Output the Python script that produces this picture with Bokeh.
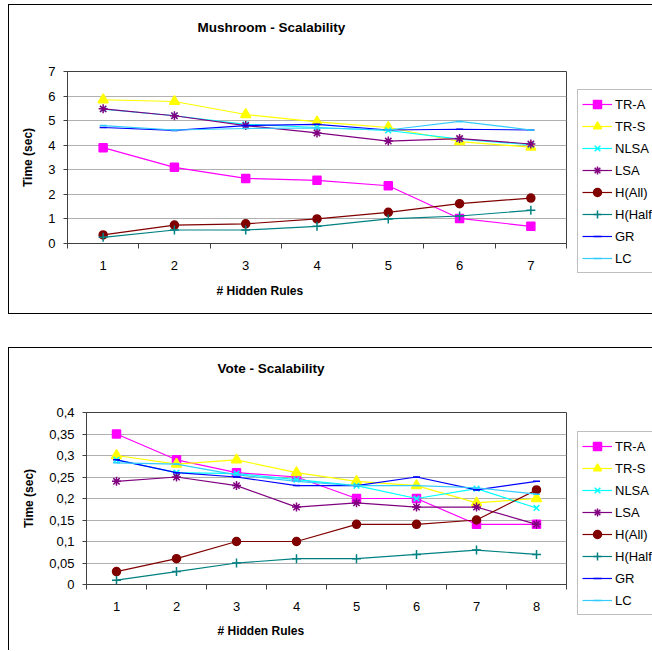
from bokeh.plotting import figure
from bokeh.models import (FixedTicker, Legend, LegendItem, Title, Range1d,
                          Spacer, LinearAxis)
from bokeh.layouts import column, row
from bokeh.embed import file_html
from bokeh.resources import INLINE

series_names = ["TR-A", "TR-S", "NLSA", "LSA", "H(All)", "H(Half)", "GR", "LC"]

# Mushroom - Scalability
mush_x = [1, 2, 3, 4, 5, 6, 7]
mush_tra = [3.9, 3.1, 2.65, 2.57, 2.35, 1.02, 0.7]
mush_trs = [5.85, 5.78, 5.25, 4.95, 4.72, 4.15, 3.92]
mush_nlsa = [5.47, 5.2, 4.85, 4.72, 4.6, 4.25, 4.02]
mush_lsa = [5.48, 5.2, 4.8, 4.5, 4.17, 4.27, 4.05]
mush_hall = [0.35, 0.75, 0.8, 1.0, 1.27, 1.62, 1.85]
mush_hhalf = [0.25, 0.55, 0.55, 0.7, 1.0, 1.12, 1.35]
mush_gr = [4.72, 4.6, 4.8, 4.85, 4.62, 4.65, 4.62]
mush_lc = [4.8, 4.62, 4.68, 4.7, 4.62, 4.97, 4.62]
mush_yticks = [0, 1, 2, 3, 4, 5, 6, 7]
mush_ylabels = ["0", "1", "2", "3", "4", "5", "6", "7"]

# Vote - Scalability
vote_x = [1, 2, 3, 4, 5, 6, 7, 8]
vote_tra = [0.35, 0.29, 0.26, 0.25, 0.20, 0.20, 0.14, 0.14]
vote_trs = [0.30, 0.28, 0.29, 0.26, 0.24, 0.23, 0.19, 0.20]
vote_nlsa = [0.29, 0.26, 0.258, 0.244, 0.23, 0.20, 0.223, 0.178]
vote_lsa = [0.24, 0.25, 0.23, 0.18, 0.19, 0.18, 0.18, 0.14]
vote_hall = [0.03, 0.06, 0.10, 0.10, 0.14, 0.14, 0.15, 0.22]
vote_hhalf = [0.01, 0.03, 0.05, 0.06, 0.06, 0.07, 0.08, 0.07]
vote_gr = [0.29, 0.26, 0.25, 0.23, 0.23, 0.25, 0.22, 0.24]
vote_lc = [0.283, 0.28, 0.255, 0.24, 0.23, 0.23, 0.225, 0.21]
vote_yticks = [0, 0.05, 0.1, 0.15, 0.2, 0.25, 0.3, 0.35, 0.4]
vote_ylabels = ["0", "0,05", "0,1", "0,15", "0,2", "0,25", "0,3", "0,35", "0,4"]

styles = [
    dict(color="#FF00FF", marker="square", size=8),
    dict(color="#FFFF00", marker="triangle", size=10),
    dict(color="#00FFFF", marker="x", size=8),
    dict(color="#800080", marker="asterisk", size=9),
    dict(color="#800000", marker="circle", size=8),
    dict(color="#008080", marker="cross", size=9),
    dict(color="#0000FF", marker="dash", size=7),
    dict(color="#33CCFF", marker="dash", size=7),
]

FONT = "Liberation Sans"


def add_series(p, xs, ys, st):
    ln = p.line(xs, ys, line_color=st["color"], line_width=1.2)
    sc = p.scatter(xs, ys, marker=st["marker"], size=st["size"],
                   fill_color=st["color"], line_color=st["color"],
                   line_width=1.5)
    return ln, sc


def make_chart(title, xs, ys_list, y_max, yticks, ylabels, height,
               min_left, min_top, min_bottom, title_offset, xlab_offset,
               xlab_standoff, legend_y, show_bottom_border):
    n = len(xs)
    p = figure(width=559, height=height, output_backend="svg",
               toolbar_location=None,
               x_range=Range1d(0.5, n + 0.5), y_range=Range1d(0, y_max),
               min_border_left=min_left, min_border_right=1,
               min_border_top=min_top, min_border_bottom=min_bottom)
    p.border_fill_alpha = 0
    p.background_fill_color = "white"
    p.outline_line_color = "#404040"
    p.outline_line_width = 1

    p.xgrid.grid_line_color = None
    p.ygrid.grid_line_color = "#B0B0B0"
    p.ygrid.grid_line_width = 1

    xa = p.below[0]
    xa.ticker = FixedTicker(ticks=list(xs),
                            minor_ticks=[i + 0.5 for i in range(0, n + 1)])
    xa.major_tick_out = 0
    xa.major_tick_in = 0
    xa.minor_tick_out = 5
    xa.minor_tick_in = 0
    xa.minor_tick_line_color = "#404040"
    xa.axis_line_color = "#404040"
    xa.major_label_standoff = 12
    xa.major_label_text_font = FONT
    xa.major_label_text_font_size = "13px"
    xa.major_label_text_color = "black"

    ya = p.left[0]
    ya.ticker = FixedTicker(ticks=list(yticks), minor_ticks=[])
    ya.major_label_overrides = {t: l for t, l in zip(yticks, ylabels)}
    ya.major_tick_out = 4
    ya.major_tick_in = 0
    ya.major_tick_line_color = "#404040"
    ya.axis_line_color = "#404040"
    ya.major_label_standoff = 8
    ya.major_label_text_font = FONT
    ya.major_label_text_font_size = "13px"
    ya.major_label_text_color = "black"
    ya.axis_label = "Time (sec)"
    ya.axis_label_text_font = FONT
    ya.axis_label_text_font_style = "bold"
    ya.axis_label_text_font_size = "12px"
    ya.axis_label_text_color = "black"
    ya.axis_label_standoff = 10

    # empty band between plot area and title (invisible ticks, no labels)
    gap = LinearAxis(ticker=FixedTicker(ticks=list(xs), minor_ticks=[]),
                     axis_line_color=None, major_tick_line_color=None,
                     minor_tick_line_color=None, major_tick_out=36,
                     major_tick_in=0, minor_tick_out=0, minor_tick_in=0,
                     major_label_standoff=0,
                     major_label_text_font_size="0px",
                     major_label_overrides={x: "" for x in xs})
    p.add_layout(gap, "above")
    p.add_layout(Title(text=title, align="left", offset=title_offset,
                       standoff=2, text_font=FONT, text_font_style="bold",
                       text_font_size="13.5px", text_color="black"), "above")

    for ys, st in zip(ys_list, styles):
        add_series(p, xs, ys, st)

    p.add_layout(Title(text="# Hidden Rules", align="left",
                       offset=xlab_offset, standoff=xlab_standoff,
                       text_font=FONT, text_font_style="bold",
                       text_font_size="12px", text_color="black"), "below")

    # legend panel to the right of the plot area (its series lie outside
    # its visible range, only the legend is shown)
    lg = figure(width=85, height=height, output_backend="svg",
                toolbar_location=None, x_range=Range1d(-2, -1),
                y_range=Range1d(0, y_max), x_axis_location=None,
                y_axis_location=None, min_border=0)
    lg.border_fill_alpha = 0
    lg.background_fill_alpha = 0
    lg.outline_line_color = None
    lg.grid.visible = False
    items = []
    for name, ys, st in zip(series_names, ys_list, styles):
        ln, sc = add_series(lg, xs, ys, st)
        items.append(LegendItem(label=name, renderers=[ln, sc]))
    legend = Legend(items=items, location=(10, legend_y))
    legend.label_text_font = FONT
    legend.label_text_font_size = "13px"
    legend.label_text_color = "black"
    legend.glyph_width = 30
    legend.glyph_height = 20
    legend.label_height = 20
    legend.spacing = 2
    legend.padding = 4
    legend.margin = 0
    legend.label_standoff = 3
    legend.border_line_color = "#808080"
    legend.border_line_width = 1
    legend.background_fill_color = "white"
    legend.background_fill_alpha = 1
    lg.add_layout(legend)

    shadow = "inset 1px 0 0 #000, inset 0 1px 0 #000"
    if show_bottom_border:
        shadow += ", inset 0 -1px 0 #000"
    chart = row(column(p), column(lg), spacing=0,
                styles={"box-shadow": shadow})
    return chart


c1 = make_chart("Mushroom - Scalability", mush_x,
                [mush_tra, mush_trs, mush_nlsa, mush_lsa, mush_hall,
                 mush_hhalf, mush_gr, mush_lc],
                7, mush_yticks, mush_ylabels, height=310, min_left=59,
                min_top=67, min_bottom=71, title_offset=130,
                xlab_offset=149, xlab_standoff=19, legend_y=41,
                show_bottom_border=True)

c2 = make_chart("Vote - Scalability", vote_x,
                [vote_tra, vote_trs, vote_nlsa, vote_lsa, vote_hall,
                 vote_hhalf, vote_gr, vote_lc],
                0.4, vote_yticks, vote_ylabels, height=303, min_left=78,
                min_top=65, min_bottom=66, title_offset=131,
                xlab_offset=131, xlab_standoff=16, legend_y=35,
                show_bottom_border=False)

layout = column(
    Spacer(height=4),
    row(Spacer(width=8), c1, spacing=0),
    Spacer(height=33),
    row(Spacer(width=8), c2, spacing=0),
    spacing=0,
)

open("out.html", "w").write(file_html(layout, INLINE))
